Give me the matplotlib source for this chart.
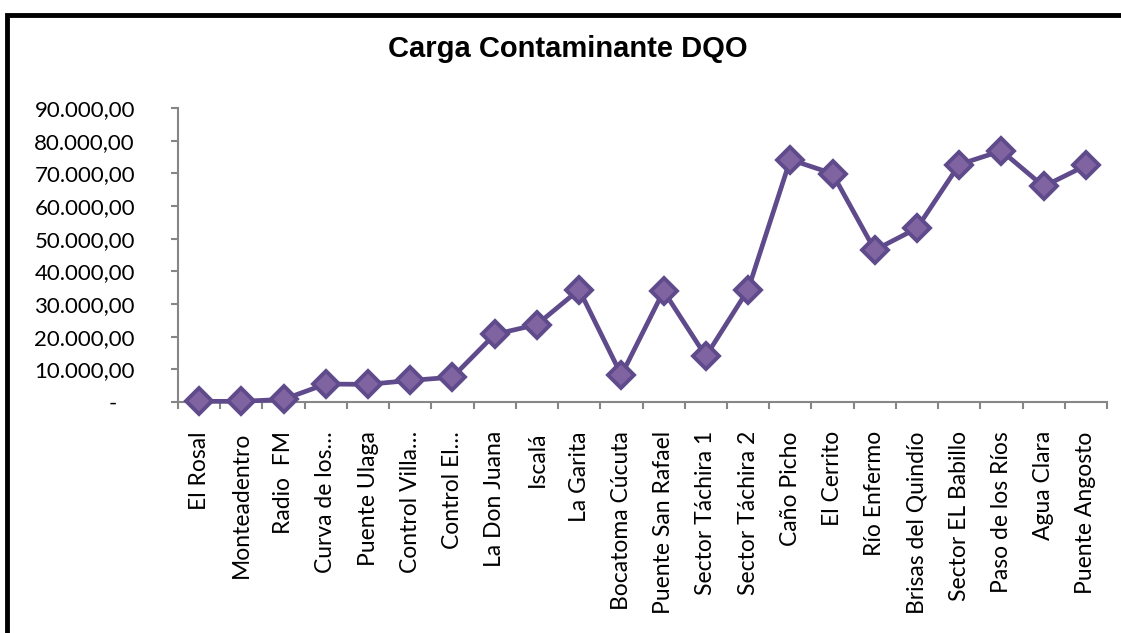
import numpy as np
import matplotlib
matplotlib.use('Agg')
import matplotlib.pyplot as plt
import matplotlib.ticker as mticker
from matplotlib.patches import Rectangle

# -----------------------------
# Data
# -----------------------------
stations = ['El Rosal', 'Monteadentro', 'Radio  FM', 'Curva de los…', 'Puente Ulaga',
            'Control Villa…', 'Control El…', 'La Don Juana', 'Iscalá', 'La Garita',
            'Bocatoma Cúcuta', 'Puente San Rafael', 'Sector Táchira 1', 'Sector Táchira 2',
            'Caño Picho', 'El Cerrito', 'Río Enfermo', 'Brisas del Quindío',
            'Sector EL Babillo', 'Paso de los Ríos', 'Agua Clara', 'Puente Angosto']
dqo = [200, 200, 800, 5500, 5400, 6600, 7600, 20700, 23700, 34400,
       8200, 34000, 14000, 34400, 74200, 69900, 46500, 53200,
       72700, 76900, 66000, 72400]
title = 'Carga Contaminante DQO'

line_c = '#5F4B8B'
face_c = '#8064A2'
axis_c = '#868686'
tick_font = 'Lato'

fig = plt.figure(figsize=(11.21, 6.33), dpi=100)
ax = fig.add_axes([178/1121, 1 - 402/633, (1107 - 178)/1121, (402 - 108)/633])

x = np.arange(len(stations))
ax.plot(x, dqo, color=line_c, lw=3.4, marker='D', ms=13,
        markerfacecolor=face_c, markeredgecolor=line_c, markeredgewidth=2.8,
        clip_on=False, zorder=5)

ax.set_xlim(-0.5, len(stations) - 0.5)
ax.set_ylim(0, 90000)
ax.set_yticks(np.arange(0, 90001, 10000))


def fmt(v, pos):
    if v == 0:
        return '-   '
    s = f'{v:,.2f}'
    return s.replace(',', 'X').replace('.', ',').replace('X', '.')


ax.yaxis.set_major_formatter(mticker.FuncFormatter(fmt))
ax.set_xticks(x)
ax.set_xticklabels(stations, rotation=90, fontsize=16.5, family=tick_font)
ax.set_xticks(np.arange(-0.5, len(stations)), minor=True)
ax.tick_params(axis='x', which='major', length=0, pad=21)
ax.tick_params(axis='x', which='minor', length=5, color=axis_c, width=1.5, direction='out')
ax.tick_params(axis='y', length=5, color=axis_c, width=1.5, labelsize=16, pad=26)
for lab in ax.get_yticklabels():
    lab.set_family(tick_font)

for s in ['top', 'right']:
    ax.spines[s].set_visible(False)
for s in ['left', 'bottom']:
    ax.spines[s].set_color(axis_c)
    ax.spines[s].set_linewidth(1.5)

fig.text(568/1121, 1 - 57/633, title, ha='center', va='baseline',
         fontsize=21, fontweight='bold', family='Liberation Sans')

# outer chart frame (cut off at right/bottom)
fig.patches.append(Rectangle((7/1121, -0.1), 1.2, 1 - 15/633 + 0.1,
                             transform=fig.transFigure, fill=False,
                             edgecolor='black', lw=3.5, clip_on=False))

fig.savefig('out.png', dpi=100)
